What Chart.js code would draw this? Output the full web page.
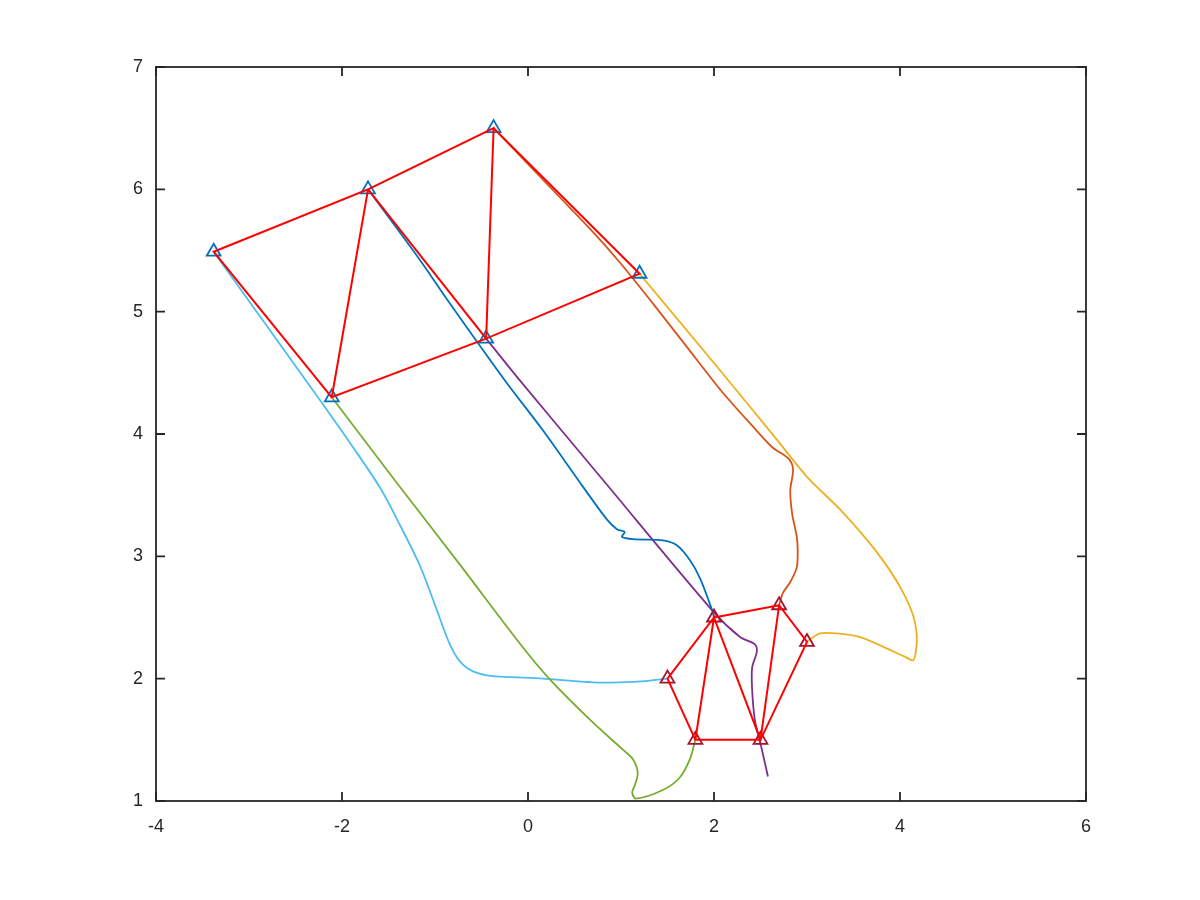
<!DOCTYPE html>
<html>
<head>
<meta charset="utf-8">
<title>Truss motion</title>
<script src="https://cdn.jsdelivr.net/npm/chart.js@4.4.1/dist/chart.umd.min.js"></script>
<style>
  html, body { margin: 0; padding: 0; background: #ffffff; }
  canvas { display: block; }
</style>
</head>
<body>
<canvas id="trussChart" width="1200" height="900"></canvas>
<script>
// axis ticks
const xTickValues = [-4, -2, 0, 2, 4, 6];
const yTickValues = [1, 2, 3, 4, 5, 6, 7];

// nodes A..F, start and end positions
const startX = [-3.38, -1.72, -0.37, 1.20, -0.45, -2.11];
const startY = [5.49, 6.00, 6.50, 5.31, 4.78, 4.30];
const endX = [1.50, 2.00, 2.70, 3.00, 2.50, 1.80];
const endY = [2.00, 2.50, 2.60, 2.30, 1.50, 1.50];

// bars walked as one path: C D E C B E F B A F
const edgePath = [2, 3, 4, 2, 1, 4, 5, 1, 0, 5];

// node trajectories
const blueX = [-1.72, -1.16, -0.87, -0.25, 0.16, 0.59, 0.85, 0.96, 1.04, 1.01, 1.13, 1.45, 1.60, 1.74, 1.85, 1.98, 2.00];
const blueY = [6.00, 5.42, 5.10, 4.44, 4.03, 3.57, 3.30, 3.22, 3.20, 3.16, 3.14, 3.13, 3.09, 2.97, 2.82, 2.56, 2.50];

const orangeX = [-0.37, 0.31, 0.70, 0.99, 1.34, 1.71, 2.07, 2.42, 2.63, 2.80, 2.85, 2.82, 2.84, 2.89, 2.90, 2.89, 2.82, 2.74, 2.70];
const orangeY = [6.50, 5.96, 5.65, 5.40, 5.07, 4.71, 4.36, 4.06, 3.89, 3.80, 3.71, 3.54, 3.35, 3.16, 3.05, 2.91, 2.79, 2.70, 2.60];

const yellowX = [1.20, 2.00, 2.68, 3.00, 3.36, 3.65, 3.86, 4.03, 4.14, 4.18, 4.17, 4.14, 4.05, 3.82, 3.57, 3.32, 3.14, 3.03, 3.00];
const yellowY = [5.31, 4.58, 3.95, 3.65, 3.38, 3.13, 2.92, 2.71, 2.52, 2.36, 2.22, 2.15, 2.18, 2.26, 2.34, 2.37, 2.37, 2.32, 2.30];

const purpleX = [-0.45, -0.09, 0.80, 1.99, 2.28, 2.44, 2.46, 2.41, 2.41, 2.44, 2.50, 2.58];
const purpleY = [4.78, 4.44, 3.63, 2.55, 2.34, 2.28, 2.22, 2.09, 1.91, 1.66, 1.47, 1.20];

const greenX = [-2.11, -1.42, -0.73, -0.09, 0.24, 0.70, 1.02, 1.13, 1.18, 1.15, 1.12, 1.16, 1.45, 1.63, 1.74, 1.80];
const greenY = [4.30, 3.61, 2.93, 2.29, 1.99, 1.64, 1.42, 1.34, 1.23, 1.13, 1.07, 1.02, 1.09, 1.19, 1.34, 1.50];

const lightBlueX = [-3.38, -2.24, -1.88, -1.59, -1.38, -1.16, -0.98, -0.84, -0.73, -0.59, -0.38, -0.09, 0.16, 0.70, 0.99, 1.26, 1.50];
const lightBlueY = [5.49, 4.28, 3.89, 3.56, 3.26, 2.92, 2.56, 2.28, 2.14, 2.06, 2.02, 2.01, 2.00, 1.97, 1.97, 1.98, 2.00];

const AXIS_COLOR = '#262626';
const TICK_LEN = 9;

function toPoints(xs, ys) {
  return xs.map((x, i) => ({ x: x, y: ys[i] }));
}

function edgePoints(xs, ys) {
  return edgePath.map(i => ({ x: xs[i], y: ys[i] }));
}

function trajectory(xs, ys, color) {
  return {
    data: toPoints(xs, ys),
    showLine: true,
    borderColor: color,
    borderWidth: 1.8,
    pointRadius: 0,
    tension: 0.3,
    fill: false,
    order: 2
  };
}

function markers(xs, ys, color) {
  return {
    data: toPoints(xs, ys),
    showLine: false,
    pointStyle: 'triangle',
    pointRadius: 8,
    pointBorderWidth: 1.8,
    pointBorderColor: color,
    pointBackgroundColor: 'rgba(0,0,0,0)',
    order: 1
  };
}

function bars(xs, ys) {
  return {
    data: edgePoints(xs, ys),
    showLine: true,
    borderColor: '#ff0000',
    borderWidth: 2,
    pointRadius: 0,
    tension: 0,
    order: 0
  };
}

// box with inward ticks on all four sides, octave style
const axesBox = {
  id: 'axesBox',
  beforeDatasetsDraw(chart) {
    const { ctx, chartArea } = chart;
    const { left, right, top, bottom } = chartArea;
    const xs = chart.scales.x;
    const ys = chart.scales.y;
    ctx.save();
    ctx.strokeStyle = AXIS_COLOR;
    ctx.lineWidth = 1.8;
    ctx.strokeRect(left, top, right - left, bottom - top);
    ctx.beginPath();
    xTickValues.forEach(v => {
      const px = xs.getPixelForValue(v);
      ctx.moveTo(px, bottom); ctx.lineTo(px, bottom - TICK_LEN);
      ctx.moveTo(px, top); ctx.lineTo(px, top + TICK_LEN);
    });
    yTickValues.forEach(v => {
      const py = ys.getPixelForValue(v);
      ctx.moveTo(left, py); ctx.lineTo(left + TICK_LEN, py);
      ctx.moveTo(right, py); ctx.lineTo(right - TICK_LEN, py);
    });
    ctx.stroke();
    ctx.restore();
  }
};

const tickFont = { family: '"Liberation Sans", Arial, Helvetica, sans-serif', size: 18 };

new Chart(document.getElementById('trussChart'), {
  type: 'scatter',
  data: {
    datasets: [
      bars(startX, startY),
      bars(endX, endY),
      markers(startX, startY, '#0072BD'),
      markers(endX, endY, '#A2142F'),
      trajectory(blueX, blueY, '#0072BD'),
      trajectory(orangeX, orangeY, '#D95319'),
      trajectory(yellowX, yellowY, '#EDB120'),
      trajectory(purpleX, purpleY, '#7E2F8E'),
      trajectory(greenX, greenY, '#77AC30'),
      trajectory(lightBlueX, lightBlueY, '#4DBEEE')
    ]
  },
  options: {
    responsive: false,
    animation: false,
    events: [],
    layout: { padding: { left: 0, top: 67, right: 114, bottom: 0 } },
    plugins: {
      legend: { display: false },
      tooltip: { enabled: false }
    },
    scales: {
      x: {
        type: 'linear',
        min: -4,
        max: 6,
        afterBuildTicks: s => { s.ticks = xTickValues.map(v => ({ value: v })); },
        afterFit: s => { s.height = 99; },
        grid: { display: false, drawTicks: false },
        border: { display: false },
        ticks: { padding: 15, font: tickFont, color: AXIS_COLOR, maxRotation: 0 }
      },
      y: {
        type: 'linear',
        min: 1,
        max: 7,
        afterBuildTicks: s => { s.ticks = yTickValues.map(v => ({ value: v })); },
        afterFit: s => { s.width = 156; },
        grid: { display: false, drawTicks: false },
        border: { display: false },
        ticks: { padding: 13, font: tickFont, color: AXIS_COLOR }
      }
    }
  },
  plugins: [axesBox]
});
</script>
</body>
</html>
